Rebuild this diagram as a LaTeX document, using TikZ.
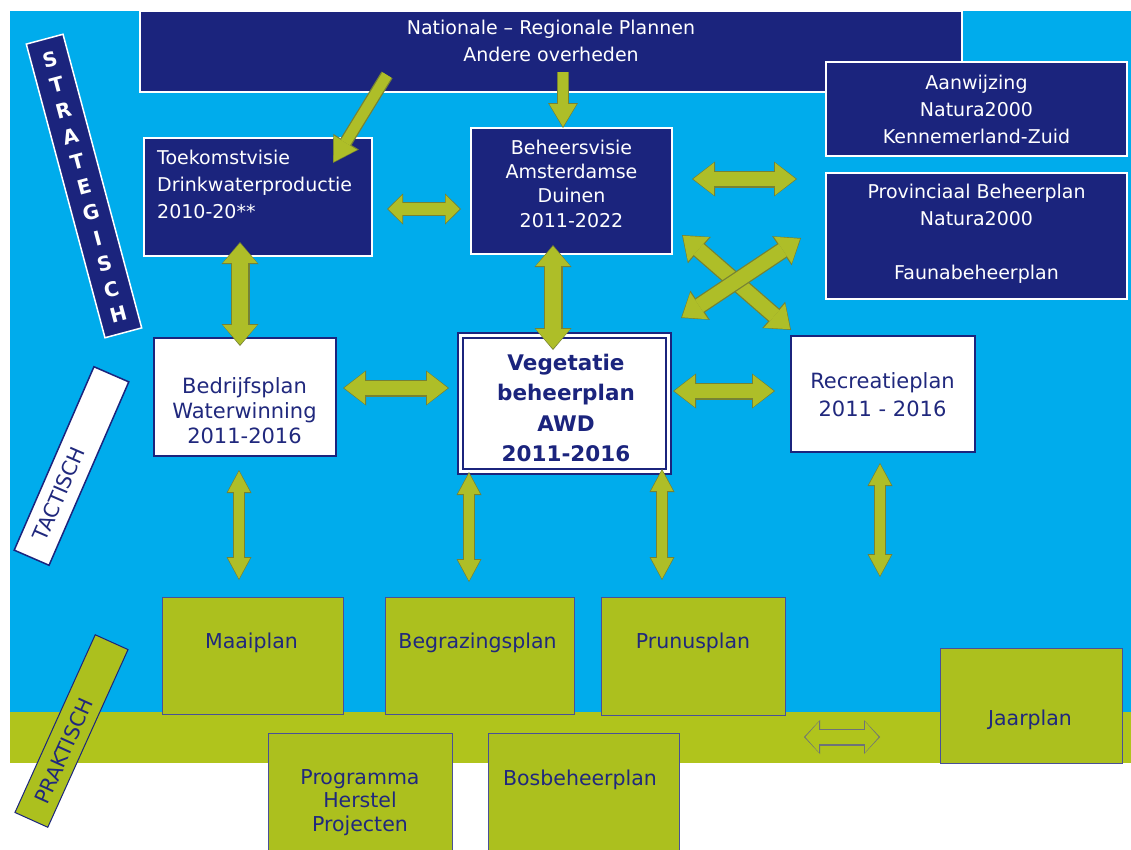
\documentclass[tikz,border=0pt]{standalone}
\usepackage{fontspec}
\setmainfont{DejaVu Sans}
\usetikzlibrary{arrows.meta}
\definecolor{bg}{RGB}{0,172,236}
\definecolor{navy}{RGB}{27,36,125}
\definecolor{navytxt}{RGB}{32,40,125}
\definecolor{olive}{RGB}{172,192,30}
\definecolor{band}{RGB}{176,196,28}
\definecolor{afill}{RGB}{174,190,40}
\definecolor{aedge}{RGB}{118,130,52}
\definecolor{ogray}{RGB}{110,115,120}
\begin{document}
\begin{tikzpicture}[x=1pt,y=-1pt,
  darkbox/.style={rectangle, inner sep=0pt, outer sep=0pt, fill=navy, draw=white, line width=2pt},
  whitebox/.style={rectangle, inner sep=0pt, outer sep=0pt, fill=white, draw=navy, line width=1.5pt},
  greenbox/.style={rectangle, inner sep=0pt, outer sep=0pt, fill=olive, draw=navy!80, line width=1pt},
  dtxt/.style={text=white, font=\fontsize{19}{27}\selectfont, align=center, inner sep=0pt},
  ltxt/.style={text=navytxt, font=\fontsize{21}{25}\selectfont, align=center, inner sep=0pt},
  gtxt/.style={text=navytxt, font=\fontsize{20.5}{23.5}\selectfont, align=center, inner sep=0pt},
  bigE/.style={draw=aedge, line width=17pt, {Triangle[length=23pt,width=35pt,line width=0pt]}-{Triangle[length=23pt,width=35pt,line width=0pt]}},
  bigF/.style={draw=afill, line width=14.5pt, shorten <=1.3pt, shorten >=1.3pt, {Triangle[length=20.5pt,width=32pt,line width=0pt]}-{Triangle[length=20.5pt,width=32pt,line width=0pt]}},
  midE/.style={draw=aedge, line width=14pt, {Triangle[length=16pt,width=31pt,line width=0pt]}-{Triangle[length=16pt,width=31pt,line width=0pt]}},
  midF/.style={draw=afill, line width=11.5pt, shorten <=1.3pt, shorten >=1.3pt, {Triangle[length=14pt,width=28pt,line width=0pt]}-{Triangle[length=14pt,width=28pt,line width=0pt]}},
  vE/.style={draw=aedge, line width=19pt, {Triangle[length=22pt,width=37pt,line width=0pt]}-{Triangle[length=22pt,width=37pt,line width=0pt]}},
  vF/.style={draw=afill, line width=16.5pt, shorten <=1.3pt, shorten >=1.3pt, {Triangle[length=19.5pt,width=34pt,line width=0pt]}-{Triangle[length=19.5pt,width=34pt,line width=0pt]}},
  thinE/.style={draw=aedge, line width=12pt, {Triangle[length=23pt,width=25pt,line width=0pt]}-{Triangle[length=23pt,width=25pt,line width=0pt]}},
  thinF/.style={draw=afill, line width=9.5pt, shorten <=1.3pt, shorten >=1.3pt, {Triangle[length=20.5pt,width=22pt,line width=0pt]}-{Triangle[length=20.5pt,width=22pt,line width=0pt]}},
  oneE/.style={draw=aedge, line width=#1, -{Triangle[length=25pt,width=30pt,line width=0pt]}},
  oneF/.style={draw=afill, line width=#1, shorten >=1.3pt, -{Triangle[length=22.5pt,width=27pt,line width=0pt]}},
  smallE/.style={draw=ogray, line width=17pt, {Triangle[length=16pt,width=34pt,line width=0pt]}-{Triangle[length=16pt,width=34pt,line width=0pt]}},
  smallF/.style={draw=band, line width=14.5pt, shorten <=1.4pt, shorten >=1.4pt, {Triangle[length=13.5pt,width=30.5pt,line width=0pt]}-{Triangle[length=13.5pt,width=30.5pt,line width=0pt]}}
]
\useasboundingbox (0,0) rectangle (1131,849);
\clip (0,0) rectangle (1131,849);
% background
\fill[white] (0,0) rectangle (1131,849);
\fill[bg] (10,11) rectangle (1131,712);
\fill[band] (10,712) rectangle (1131,763);

% side labels
\node[rotate=15, fill=navy, draw=white, line width=1.5pt, minimum width=38pt, minimum height=304pt, inner sep=0pt] (strat) at (84,186) {};
\node[rotate=15, text=white, font=\bfseries\fontsize{20}{26.4}\selectfont, align=center, inner sep=0pt] (stratT) at (84,187) {S\\T\\R\\A\\T\\E\\G\\I\\S\\C\\H};
\node[rotate=66.5, fill=white, draw=navy, line width=1.5pt, minimum width=200pt, minimum height=38pt, inner sep=0pt] (tact) at (71.5,466) {};
\node[rotate=66.5, text=navytxt, font=\fontsize{20.5}{24}\selectfont, inner sep=0pt] (tactT) at (59,494) {TACTISCH};
\node[rotate=65.7, fill=olive, draw=navy, line width=1pt, minimum width=195pt, minimum height=36pt, inner sep=0pt] (prak) at (71.5,731) {};
\node[rotate=65.7, text=navytxt, font=\fontsize{20.5}{24}\selectfont, inner sep=0pt] (prakT) at (64,751) {PRAKTISCH};

% strategic boxes
\node[darkbox, minimum width=822pt, minimum height=81pt] (ban) at (551,51.5) {};
\node[dtxt] (banT) at (551,40.5) {Nationale -- Regionale Plannen\\Andere overheden};
\node[darkbox, minimum width=228pt, minimum height=118pt] (toek) at (258,197) {};
\node[dtxt, align=left, anchor=north west] (toekT) at (157,150) {Toekomstvisie\\Drinkwaterproductie\\2010-20**};
\node[darkbox, minimum width=201pt, minimum height=126pt] (behv) at (571.5,191) {};
\node[dtxt, font=\fontsize{19}{24.3}\selectfont] (behvT) at (571.5,183.5) {Beheersvisie\\Amsterdamse\\Duinen\\2011-2022};
\node[darkbox, minimum width=301pt, minimum height=94pt] (aanw) at (976.5,109) {};
\node[dtxt] (aanwT) at (976.5,109.5) {Aanwijzing\\Natura2000\\Kennemerland-Zuid};
\node[darkbox, minimum width=301pt, minimum height=126pt] (prov) at (976.5,236) {};
\node[dtxt] (provT) at (976.5,234) {Provinciaal Beheerplan\\Natura2000\\[27pt]Faunabeheerplan};

% tactical boxes
\node[whitebox, minimum width=182pt, minimum height=118pt] (bedr) at (245,397) {};
\node[ltxt] (bedrT) at (244.5,411) {Bedrijfsplan\\Waterwinning\\2011-2016};
\node[rectangle, inner sep=0pt, fill=white, draw=navy, line width=2.2pt, double=white, double distance=3pt, minimum width=208pt, minimum height=136pt] (veg) at (564.5,403.5) {};
\node[text=navy, font=\bfseries\fontsize{21.5}{30.5}\selectfont, align=center, inner sep=0pt] (vegT) at (566,408) {Vegetatie\\beheerplan\\AWD\\2011-2016};
\node[whitebox, minimum width=184pt, minimum height=116pt] (recr) at (883,394) {};
\node[ltxt, font=\fontsize{21}{28}\selectfont] (recrT) at (882.5,395) {Recreatieplan\\2011 - 2016};

% practical boxes
\node[greenbox, minimum width=181pt, minimum height=117pt] (maai) at (252.5,655.5) {};
\node[gtxt] (maaiT) at (251.5,643) {Maaiplan};
\node[greenbox, minimum width=189pt, minimum height=117pt] (begr) at (479.5,655.5) {};
\node[gtxt] (begrT) at (477.5,643) {Begrazingsplan};
\node[greenbox, minimum width=184pt, minimum height=118pt] (prun) at (693,656) {};
\node[gtxt] (prunT) at (693,643) {Prunusplan};
\node[greenbox, minimum width=182pt, minimum height=115pt] (jaar) at (1031,705.5) {};
\node[gtxt] (jaarT) at (1030,720) {Jaarplan};
\node[greenbox, minimum width=184pt, minimum height=127pt] (prog) at (360,796.5) {};
\node[gtxt] (progT) at (360,802.5) {Programma\\Herstel\\Projecten};
\node[greenbox, minimum width=191pt, minimum height=127pt] (bos) at (583.5,796.5) {};
\node[gtxt] (bosT) at (580,780) {Bosbeheerplan};

% arrow end points
\coordinate (a1s) at (387,75);  \coordinate (a1e) at (333,163);
\coordinate (a2s) at (563,72);  \coordinate (a2e) at (563,128);
\coordinate (a3s) at (387,209); \coordinate (a3e) at (461,209);
\coordinate (a4s) at (692,179); \coordinate (a4e) at (797,179);
\coordinate (a5s) at (682,235); \coordinate (a5e) at (791,330);
\coordinate (a6s) at (681,318); \coordinate (a6e) at (801,238);
\coordinate (a7s) at (240,242); \coordinate (a7e) at (240,346);
\coordinate (a8s) at (553,245); \coordinate (a8e) at (553,350);
\coordinate (a9s) at (343,388); \coordinate (a9e) at (449,388);
\coordinate (a10s) at (673,391); \coordinate (a10e) at (775,391);
\coordinate (a11s) at (239,470); \coordinate (a11e) at (239,580);
\coordinate (a12s) at (469,472); \coordinate (a12e) at (469,582);
\coordinate (a13s) at (662,469); \coordinate (a13e) at (662,580);
\coordinate (a14s) at (880,463); \coordinate (a14e) at (880,577);
\coordinate (a15s) at (804,737); \coordinate (a15e) at (880,737);

% arrows
\draw[oneE=13pt] (a1s) -- (a1e); \draw[oneF=10.5pt] (a1s) -- (a1e);
\draw[oneE=12pt] (a2s) -- (a2e); \draw[oneF=9.5pt] (a2s) -- (a2e);
\draw[midE] (a3s) -- (a3e); \draw[midF] (a3s) -- (a3e);
\draw[bigE] (a4s) -- (a4e); \draw[bigF] (a4s) -- (a4e);
\draw[bigE] (a5s) -- (a5e); \draw[bigF] (a5s) -- (a5e);
\draw[bigE] (a6s) -- (a6e); \draw[bigF] (a6s) -- (a6e);
\draw[vE] (a7s) -- (a7e); \draw[vF] (a7s) -- (a7e);
\draw[vE] (a8s) -- (a8e); \draw[vF] (a8s) -- (a8e);
\draw[bigE] (a9s) -- (a9e); \draw[bigF] (a9s) -- (a9e);
\draw[bigE] (a10s) -- (a10e); \draw[bigF] (a10s) -- (a10e);
\draw[thinE] (a11s) -- (a11e); \draw[thinF] (a11s) -- (a11e);
\draw[thinE] (a12s) -- (a12e); \draw[thinF] (a12s) -- (a12e);
\draw[thinE] (a13s) -- (a13e); \draw[thinF] (a13s) -- (a13e);
\draw[thinE] (a14s) -- (a14e); \draw[thinF] (a14s) -- (a14e);
\draw[smallE] (a15s) -- (a15e); \draw[smallF] (a15s) -- (a15e);
\end{tikzpicture}
\end{document}
